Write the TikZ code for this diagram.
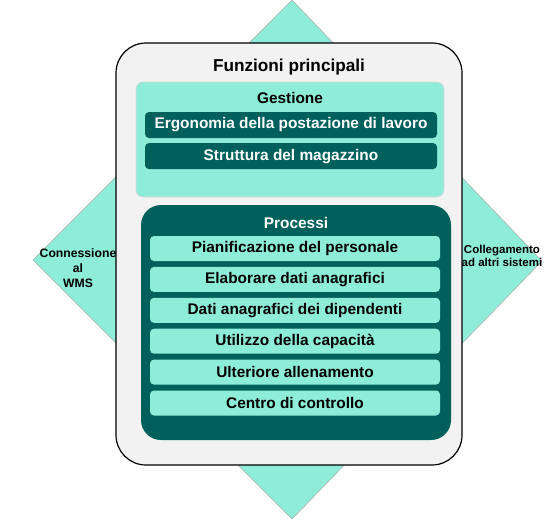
\documentclass[tikz,border=0pt]{standalone}
\usepackage{fontspec}
\setmainfont{Liberation Sans}
\usepackage{tikz}
\usetikzlibrary{positioning}
\definecolor{mint}{HTML}{8EEDD8}
\definecolor{petrol}{HTML}{00605C}
\definecolor{panel}{HTML}{F2F2F2}

\begin{document}
\begin{tikzpicture}[x=1pt, y=-1pt,
  darkbox/.style={fill=petrol, rounded corners=4pt, text=white,
                  font=\fontsize{15.4}{18}\selectfont\bfseries,
                  minimum width=292pt, minimum height=26pt, inner sep=0pt},
  lightbox/.style={fill=mint, rounded corners=4pt, text=black,
                   font=\fontsize{15.4}{18}\selectfont\bfseries,
                   minimum width=290pt, minimum height=25pt, inner sep=0pt},
  sidetext/.style={align=center, text=black, inner sep=0pt},
  head/.style={font=\fontsize{15.4}{18}\selectfont\bfseries, inner sep=0pt},
]
  \useasboundingbox (0,0) rectangle (552,520);

  %% ---- diamond behind ----
  \fill[mint, draw=black!30, line width=0.6pt]
    (292,0) -- (542,261) -- (292,519) -- (33,260) -- cycle;
  \node[sidetext, font=\fontsize{12.2}{14.7}\selectfont\bfseries] (wms) at (78,268)
    {Connessione\\al\\WMS};
  \node[sidetext, font=\fontsize{11.5}{12.3}\selectfont\bfseries] (altri) at (502,256)
    {Collegamento\\ad altri sistemi};

  %% ---- main panel ----
  \node[draw=black, line width=1.2pt, fill=panel, rounded corners=30pt,
        minimum width=346pt, minimum height=422pt] (panel) at (289,254) {};
  \node[font=\fontsize{17.2}{20}\selectfont\bfseries, inner sep=0pt] (title) at (289,67)
    {Funzioni principali};

  %% ---- Gestione ----
  \node[fill=mint, draw=black!15, line width=0.6pt, rounded corners=7pt,
        minimum width=308pt, minimum height=115pt] (gest) at (290,139.5) {};
  \node[head] (gestlbl) at (290,98) {Gestione};
  \node[darkbox] (ergo) at (291,125) {Ergonomia della postazione di lavoro};
  \node[darkbox, below=4.7pt of ergo] (strutt) {Struttura del magazzino};

  %% ---- Processi ----
  \node[fill=petrol, rounded corners=20pt,
        minimum width=310pt, minimum height=235pt] (proc) at (296,322.5) {};
  \node[head, text=white] (proclbl) at (296,223) {Processi};
  \node[lightbox] (pian) at (295,248.5) {Pianificazione del personale};
  \node[lightbox, below=5.5pt of pian] (elab) {Elaborare dati anagrafici};
  \node[lightbox, below=5.5pt of elab] (dip) {Dati anagrafici dei dipendenti};
  \node[lightbox, below=5.5pt of dip] (capac) {Utilizzo della capacità};
  \node[lightbox, below=5.5pt of capac] (allen) {Ulteriore allenamento};
  \node[lightbox, below=5.5pt of allen] (centro) {Centro di controllo};
\end{tikzpicture}
\end{document}
